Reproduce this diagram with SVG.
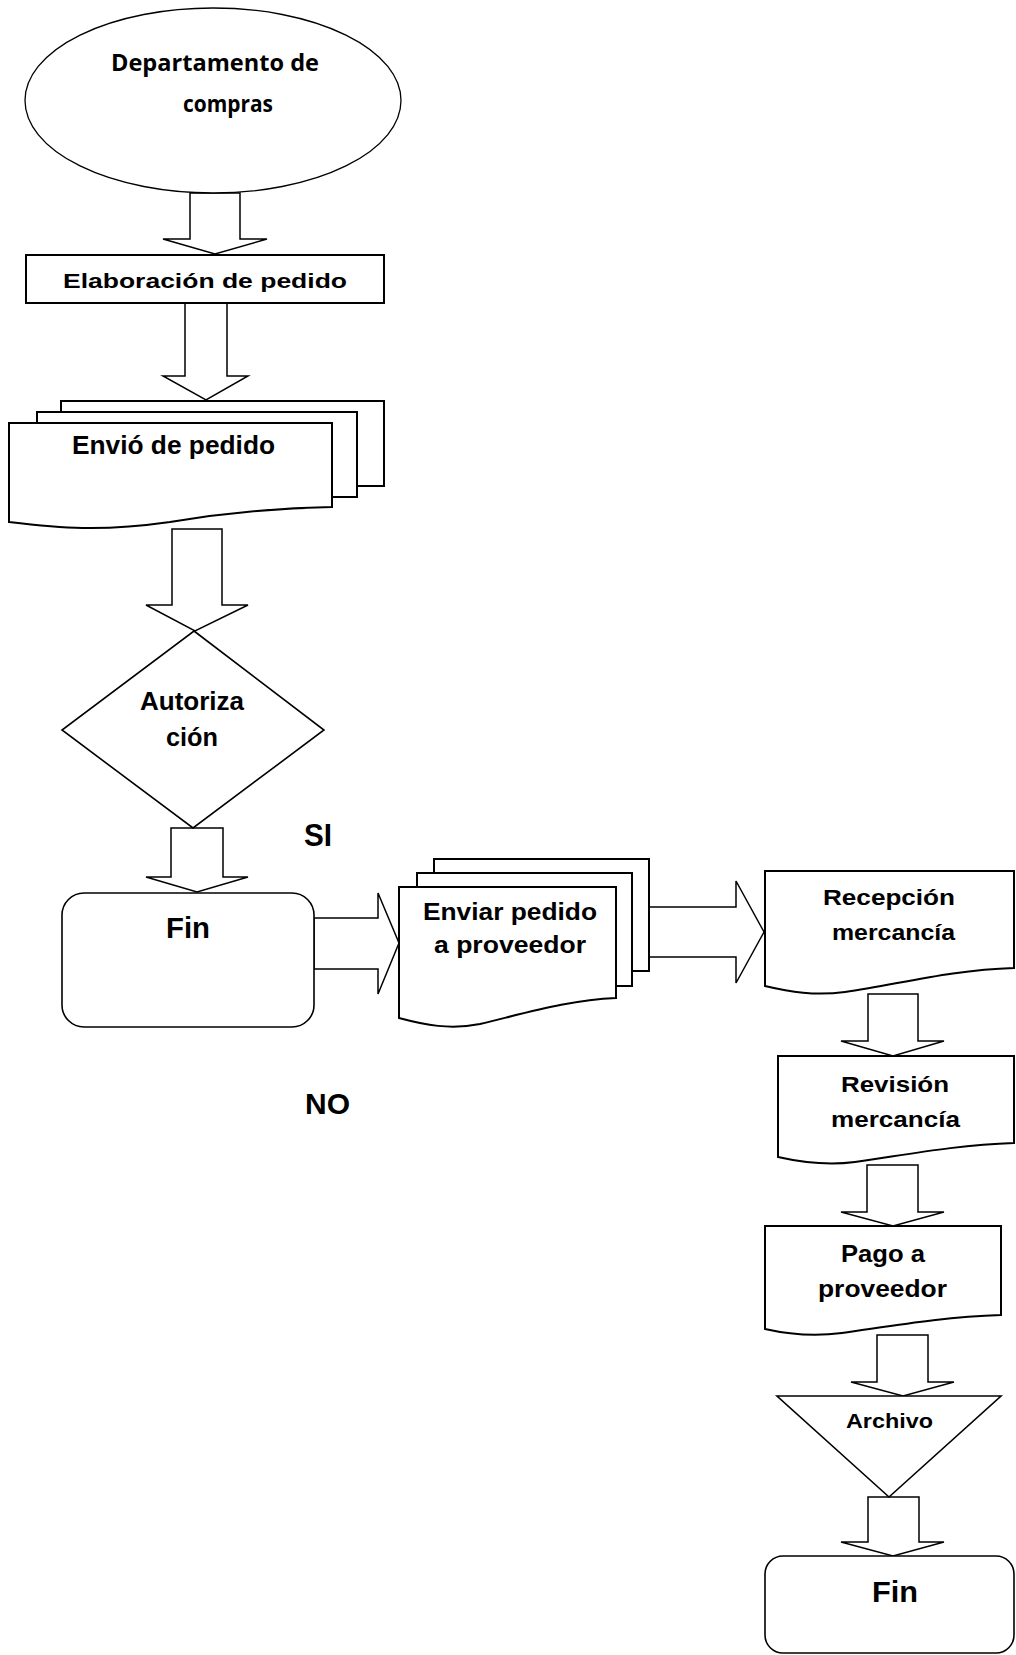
<svg xmlns="http://www.w3.org/2000/svg" width="1016" height="1655" viewBox="0 0 1016 1655">
  <style>
    .bg { fill: #ffffff; }
    .arrow { fill: #ffffff; stroke: #000000; stroke-width: 1.5; stroke-linejoin: miter; }
    .shape { fill: #ffffff; stroke: #000000; stroke-width: 1.6; }
    .thick { fill: #ffffff; stroke: #000000; stroke-width: 2; }
    .thin { fill: #ffffff; stroke: #000000; stroke-width: 1.3; }
    .lbl { font-family: "Liberation Sans", Arial, sans-serif; font-weight: bold; fill: #000000; }
    .cal { font-family: "Open Sans", "Noto Sans", sans-serif; font-weight: bold; fill: #000000; }
  </style>

  <rect class="bg" x="0" y="0" width="1016" height="1655"/>

  <!-- block arrows between steps -->
  <g id="connectors">
    <polygon class="arrow" points="190,193 240,193 240,239 267,239 215,254 163,239 190,239"/>
    <polygon class="arrow" points="185,303 227,303 227,376 248,376 206,400 163,376 185,376"/>
    <polygon class="arrow" points="172,529 222,529 222,605 248,605 195,631 146,605 172,605"/>
    <polygon class="arrow" points="171,828 223,828 223,877 248,877 197,892 146,877 171,877"/>
    <polygon class="arrow" points="314,918 378,918 378,893 399,943 378,994 378,969 314,969"/>
    <polygon class="arrow" points="649,907 736,907 736,881 764,932 736,983 736,957 649,957"/>
    <polygon class="arrow" points="868,994 918,994 918,1041 944,1041 893,1056 841,1041 868,1041"/>
    <polygon class="arrow" points="867,1165 918,1165 918,1212 944,1212 893,1226 841,1212 867,1212"/>
    <polygon class="arrow" points="877,1335 928,1335 928,1382 954,1382 903,1396 851,1382 877,1382"/>
    <polygon class="arrow" points="868,1497 919,1497 919,1542 944,1542 893,1556 841,1542 868,1542"/>
  </g>

  <g id="inicio">
    <ellipse class="thin" cx="213" cy="100.5" rx="188" ry="92.5"/>
    <text class="cal" x="111" y="71" font-size="24" textLength="208" lengthAdjust="spacingAndGlyphs">Departamento de</text>
    <text class="cal" x="183" y="112" font-size="24" textLength="90" lengthAdjust="spacingAndGlyphs">compras</text>
  </g>

  <g id="elaboracion">
    <rect class="thick" x="26" y="255" width="358" height="48"/>
    <text class="lbl" x="63" y="288" font-size="21" textLength="284" lengthAdjust="spacingAndGlyphs">Elaboración de pedido</text>
  </g>

  <g id="envio">
    <rect class="thick" x="61" y="401" width="323" height="85"/>
    <rect class="thick" x="37" y="412" width="320" height="85"/>
    <path class="thick" d="M9,522 V423 H332 V507 C280,508 230,512 170,522 C100,532 60,528 9,522 Z"/>
    <text class="lbl" x="72" y="454" font-size="25" textLength="203" lengthAdjust="spacingAndGlyphs">Envió de pedido</text>
  </g>

  <g id="autorizacion">
    <polygon class="shape" points="194,631 324,730 193,828 62,730"/>
    <text class="lbl" x="140" y="710" font-size="25" textLength="104" lengthAdjust="spacingAndGlyphs">Autoriza</text>
    <text class="lbl" x="166" y="746" font-size="25" textLength="52" lengthAdjust="spacingAndGlyphs">ción</text>
  </g>

  <g id="fin-no">
    <rect class="shape" x="62" y="893" width="252" height="134" rx="22" ry="22"/>
    <text class="lbl" x="166" y="938" font-size="30" textLength="44" lengthAdjust="spacingAndGlyphs">Fin</text>
  </g>

  <g id="etiquetas">
    <text class="lbl" x="304" y="846" font-size="31" textLength="28" lengthAdjust="spacingAndGlyphs">SI</text>
    <text class="lbl" x="305" y="1114" font-size="30" textLength="45" lengthAdjust="spacingAndGlyphs">NO</text>
  </g>

  <g id="enviar-proveedor">
    <rect class="thick" x="434" y="859" width="215" height="112"/>
    <rect class="thick" x="417" y="873" width="215" height="113"/>
    <path class="thick" d="M399,1018 V887 H616 V998 C570,1000 530,1012 480,1024 C450,1030 425,1025 399,1018 Z"/>
    <text class="lbl" x="423" y="920" font-size="24" textLength="174" lengthAdjust="spacingAndGlyphs">Enviar pedido</text>
    <text class="lbl" x="434" y="953" font-size="24" textLength="152" lengthAdjust="spacingAndGlyphs">a proveedor</text>
  </g>

  <g id="recepcion">
    <path class="thick" d="M765,986 V871 H1014 V968 C950,970 900,984 845,992 C815,996 790,992 765,986 Z"/>
    <text class="lbl" x="823" y="905" font-size="22" textLength="132" lengthAdjust="spacingAndGlyphs">Recepción</text>
    <text class="lbl" x="832" y="940" font-size="22" textLength="123" lengthAdjust="spacingAndGlyphs">mercancía</text>
  </g>

  <g id="revision">
    <path class="thick" d="M778,1157 V1056 H1014 V1143 C955,1145 905,1155 855,1162 C825,1166 800,1162 778,1157 Z"/>
    <text class="lbl" x="841" y="1092" font-size="22" textLength="108" lengthAdjust="spacingAndGlyphs">Revisión</text>
    <text class="lbl" x="831" y="1127" font-size="22" textLength="129" lengthAdjust="spacingAndGlyphs">mercancía</text>
  </g>

  <g id="pago">
    <path class="thick" d="M765,1329 V1226 H1001 V1315 C942,1317 892,1326 842,1333 C812,1337 787,1334 765,1329 Z"/>
    <text class="lbl" x="841" y="1262" font-size="23" textLength="84" lengthAdjust="spacingAndGlyphs">Pago a</text>
    <text class="lbl" x="818" y="1297" font-size="23" textLength="129" lengthAdjust="spacingAndGlyphs">proveedor</text>
  </g>

  <g id="archivo">
    <polygon class="shape" points="777,1396 1001,1396 889,1497"/>
    <text class="lbl" x="846" y="1428" font-size="21" textLength="87" lengthAdjust="spacingAndGlyphs">Archivo</text>
  </g>

  <g id="fin">
    <rect class="shape" x="765" y="1556" width="249" height="97" rx="18" ry="18"/>
    <text class="lbl" x="872" y="1602" font-size="30" textLength="46" lengthAdjust="spacingAndGlyphs">Fin</text>
  </g>
</svg>
